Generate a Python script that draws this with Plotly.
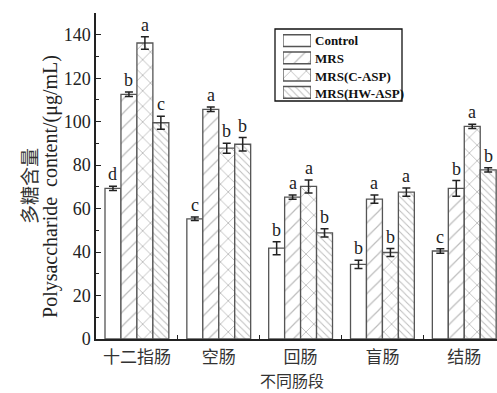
import plotly.graph_objects as go

categories = ["十二指肠", "空肠", "回肠", "盲肠", "结肠"]
series_names = ["Control", "MRS", "MRS(C-ASP)", "MRS(HW-ASP)"]

control = [69.3, 55.3, 41.8, 34.3, 40.5]
mrs = [112.6, 105.7, 65.3, 64.4, 69.3]
c_asp = [136.2, 87.8, 70.2, 39.8, 97.8]
hw_asp = [99.5, 89.6, 48.8, 67.6, 77.8]

control_err = [1.0, 0.8, 3.0, 1.9, 1.0]
mrs_err = [1.0, 1.0, 1.0, 1.9, 3.6]
c_asp_err = [2.9, 2.3, 3.0, 1.8, 1.0]
hw_asp_err = [3.0, 3.1, 1.9, 1.9, 1.0]

control_letters = ["d", "c", "b", "b", "c"]
mrs_letters = ["b", "a", "a", "a", "b"]
c_asp_letters = ["a", "b", "a", "b", "a"]
hw_asp_letters = ["c", "b", "b", "a", "b"]

values = [control, mrs, c_asp, hw_asp]
errors = [control_err, mrs_err, c_asp_err, hw_asp_err]
letters = [control_letters, mrs_letters, c_asp_letters, hw_asp_letters]
shapes = ["", "/", "x", "\\"]
sizes = [8, 10, 11, 5]
solid = [0.1, 0.12, 0.16, 0.2]

SERIF = "Liberation Serif, Times New Roman, serif"
CJK = "Noto Sans CJK SC, sans-serif"
INK = "#222222"

fig = go.Figure()


def marker_for(shp, sz, so):
    return dict(color="white", line=dict(color="#555555", width=1.3),
                pattern=dict(shape=shp, fgcolor="#7a7a7a", bgcolor="white",
                             size=sz, solidity=so))


for name, vals, errs, shp, sz, so in zip(series_names, values, errors, shapes, sizes, solid):
    fig.add_trace(go.Bar(
        name=name, x=categories, y=vals, showlegend=False,
        marker=marker_for(shp, sz, so),
        error_y=dict(type="data", array=errs, visible=True, color=INK,
                     thickness=1.5, width=4),
    ))

# custom legend swatches (patterned) on a small inset axis pair
for name, shp, sz, so in zip(series_names, shapes, sizes, solid):
    fig.add_trace(go.Bar(
        name=name, x=[1], y=[name], orientation="h", showlegend=False,
        xaxis="x2", yaxis="y2", marker=marker_for(shp, sz, so), hoverinfo="skip",
        width=0.68,
    ))

bargap = 0.22
bw = (1 - bargap) / 4
annotations = []
for si, (vals, errs, lets) in enumerate(zip(values, errors, letters)):
    off = -(1 - bargap) / 2 + bw * (si + 0.5)
    for gi in range(len(categories)):
        annotations.append(dict(
            x=gi + off, y=vals[gi] + errs[gi], xref="x", yref="y",
            text=lets[gi], showarrow=False, yanchor="bottom", yshift=0,
            font=dict(family=SERIF, size=18, color=INK)))


def px_x(p):
    return (p - 96) / 401


def px_y(p):
    return (339 - p) / 326


# legend labels
row_y = [41, 58.5, 76, 93.5]
for name, ry in zip(series_names, row_y):
    annotations.append(dict(
        x=px_x(313), y=px_y(ry), xref="paper", yref="paper", text="<b>" + name + "</b>",
        showarrow=False, xanchor="left", yanchor="middle",
        font=dict(family=SERIF, size=13, color="#111111")))

annotations.append(dict(x=-0.17, y=0.469, xref="paper", yref="paper",
                        text="多糖含量", textangle=-90, showarrow=False,
                        xanchor="center", yanchor="middle",
                        font=dict(family=CJK, size=19, color="#333333")))
annotations.append(dict(x=-0.115, y=0.469, xref="paper", yref="paper",
                        text="Polysaccharide&nbsp;&nbsp;content/(μg/mL)", textangle=-90,
                        showarrow=False, xanchor="center", yanchor="middle",
                        font=dict(family=SERIF, size=20, color=INK)))
annotations.append(dict(x=px_x(292), y=px_y(393), xref="paper", yref="paper",
                        text="不同肠段", showarrow=False,
                        xanchor="center", yanchor="bottom", borderpad=0,
                        font=dict(family=CJK, size=16, color="#333333")))

shapes_list = [dict(type="rect", xref="paper", yref="paper",
                    x0=px_x(275), x1=px_x(402), y0=px_y(101), y1=px_y(29),
                    line=dict(color="#111111", width=1.3), fillcolor="rgba(0,0,0,0)",
                    layer="above")]

fig.update_layout(
    width=497, height=393,
    margin=dict(l=96, r=0, t=13, b=54),
    paper_bgcolor="white", plot_bgcolor="white",
    barmode="group", bargap=bargap, bargroupgap=0,
    showlegend=False,
    annotations=annotations,
    shapes=shapes_list,
    xaxis=dict(
        range=[-0.5, 4.4], showline=True, linecolor=INK, linewidth=1.5,
        ticks="inside", tickson="boundaries", ticklen=4, tickcolor=INK,
        tickangle=0, automargin=False,
        tickfont=dict(family=CJK, size=17, color="#333333"), ticklabelstandoff=2,
        showgrid=False, zeroline=False,
    ),
    yaxis=dict(
        range=[0, 150], showline=True, linecolor=INK, linewidth=1.5,
        automargin=False,
        tickmode="array", tickvals=[0, 20, 40, 60, 80, 100, 120, 140],
        ticks="inside", ticklen=5, tickcolor=INK,
        minor=dict(tickvals=[10, 30, 50, 70, 90, 110, 130, 150], ticks="inside",
                   ticklen=3, tickcolor=INK),
        tickfont=dict(family=SERIF, size=18, color=INK),
        showgrid=False, zeroline=False,
    ),
    xaxis2=dict(domain=[px_x(283), px_x(311)], anchor="y2", range=[0, 1],
                visible=False, fixedrange=True),
    yaxis2=dict(domain=[px_y(101), px_y(32)], anchor="x2", visible=False,
                categoryorder="array", categoryarray=series_names[::-1],
                fixedrange=True),
)

fig.write_html("out.html")
